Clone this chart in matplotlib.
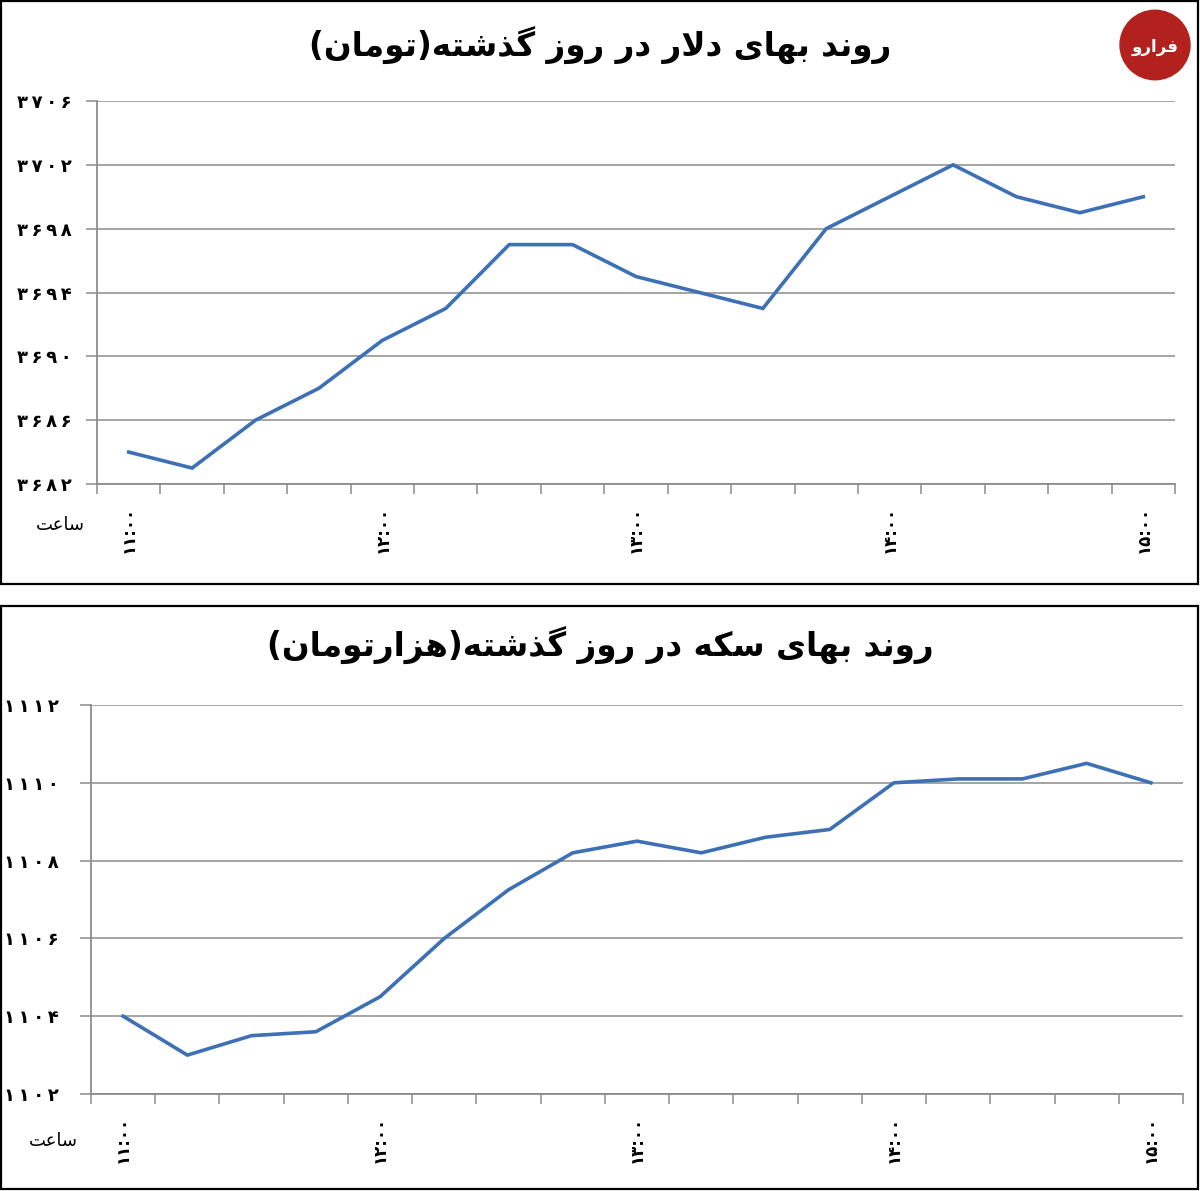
import numpy as np
import matplotlib.pyplot as plt
from matplotlib.patches import Rectangle, Circle

# --- data (Toman, every 15 minutes from 11:00 to 15:00) ---
dollar = [3684, 3683, 3686, 3688, 3691, 3693, 3697, 3697, 3695, 3694,
          3693, 3698, 3700, 3702, 3700, 3699, 3700]
coin = [1104.0, 1103.0, 1103.5, 1103.6, 1104.5, 1106.0, 1107.25, 1108.2, 1108.5,
        1108.2, 1108.6, 1108.8, 1110.0, 1110.1, 1110.1, 1110.5, 1110.0]
hour_labels = ['۱۱:۰۰', '۱۲:۰۰', '۱۳:۰۰', '۱۴:۰۰', '۱۵:۰۰']
dollar_ticks = [3682, 3686, 3690, 3694, 3698, 3702, 3706]
coin_ticks = [1102, 1104, 1106, 1108, 1110, 1112]
title_dollar = 'روند بهای دلار در روز گذشته(تومان)'
title_coin = 'روند بهای سکه در روز گذشته(هزارتومان)'
hour_word = 'ساعت'

# --- minimal persian shaping, matplotlib has no arabic layout ---
FORMS = {
    'ا': (0xFE8D, 0xFE8E), 'ب': (0xFE8F, 0xFE90, 0xFE91, 0xFE92),
    'ت': (0xFE95, 0xFE96, 0xFE97, 0xFE98), 'د': (0xFEA9, 0xFEAA),
    'ذ': (0xFEAB, 0xFEAC), 'ر': (0xFEAD, 0xFEAE), 'ز': (0xFEAF, 0xFEB0),
    'س': (0xFEB1, 0xFEB2, 0xFEB3, 0xFEB4), 'ش': (0xFEB5, 0xFEB6, 0xFEB7, 0xFEB8),
    'ع': (0xFEC9, 0xFECA, 0xFECB, 0xFECC), 'ف': (0xFED1, 0xFED2, 0xFED3, 0xFED4),
    'ک': (0xFB8E, 0xFB8F, 0xFB90, 0xFB91),
    'گ': (0xFB92, 0xFB93, 0xFB94, 0xFB95), 'ل': (0xFEDD, 0xFEDE, 0xFEDF, 0xFEE0),
    'م': (0xFEE1, 0xFEE2, 0xFEE3, 0xFEE4), 'ن': (0xFEE5, 0xFEE6, 0xFEE7, 0xFEE8),
    'ه': (0xFEE9, 0xFEEA, 0xFEEB, 0xFEEC), 'و': (0xFEED, 0xFEEE),
    'ی': (0xFBFC, 0xFBFD, 0xFBFE, 0xFBFF),
}


def fa(s):
    out = []
    i = 0
    n = len(s)
    while i < n:
        c = s[i]
        prev = s[i - 1] if i > 0 else ''
        jp = prev in FORMS and len(FORMS[prev]) == 4 and c in FORMS
        if c == 'ل' and i + 1 < n and s[i + 1] == 'ا':
            out.append(chr(0xFEFC if jp else 0xFEFB))
            i += 2
            continue
        if c not in FORMS:
            out.append(c)
            i += 1
            continue
        f = FORMS[c]
        jn = len(f) == 4 and i + 1 < n and s[i + 1] in FORMS
        if jp and jn:
            out.append(chr(f[3]))
        elif jp:
            out.append(chr(f[1]))
        elif jn:
            out.append(chr(f[2]))
        else:
            out.append(chr(f[0]))
        i += 1
    vis = ''.join(out)[::-1]
    return vis.translate(str.maketrans('()', ')('))


def fa_num(v):
    d = str(v).translate(str.maketrans('0123456789', '۰۱۲۳۴۵۶۷۸۹'))
    return '\u2009'.join(d)


W, H = 1200, 1191
fig = plt.figure(figsize=(W / 100, H / 100), dpi=100)
plt.rcParams['font.family'] = ['DejaVu Sans']

blue = '#3d70b5'
grey = '#8c8c8c'


def px(x0, y0, x1, y1):
    return [x0 / W, 1 - y1 / H, (x1 - x0) / W, (y1 - y0) / H]


def panel(box, values, ticks, title, title_y, word_xy, ylab_pad):
    ax = fig.add_axes(box)
    x = np.arange(len(values))
    ax.plot(x, values, color=blue, lw=2.6, solid_joinstyle='miter')
    ax.set_xlim(-0.5, len(values) - 0.5)
    ax.set_ylim(ticks[0], ticks[-1])
    ax.set_yticks(ticks)
    ax.set_yticklabels([fa_num(t) for t in ticks], fontsize=13, fontweight='bold')
    ax.yaxis.grid(True, color=grey, lw=1.1)
    ax.set_axisbelow(True)
    ax.set_xticks(np.arange(len(values) + 1) - 0.5)
    ax.set_xticklabels([])
    ax.set_xticks(x[::4], minor=True)
    ax.set_xticklabels(hour_labels, minor=True, rotation=90, fontsize=12,
                       fontweight='bold')
    ax.tick_params(axis='x', which='major', length=7, width=1.1, color=grey,
                   direction='out')
    ax.tick_params(axis='x', which='minor', length=0, pad=16)
    ax.tick_params(axis='y', length=8, width=1.1, color=grey, pad=ylab_pad)
    for s in ['top', 'right']:
        ax.spines[s].set_visible(False)
    for s in ['left', 'bottom']:
        ax.spines[s].set_color(grey)
        ax.spines[s].set_linewidth(1.3)
    fig.text(0.5, 1 - title_y / H, fa(title), ha='center', va='center',
             fontsize=23.5, fontweight='bold')
    fig.text(word_xy[0] / W, 1 - word_xy[1] / H, fa(hour_word), ha='center',
             va='center', fontsize=13)
    return ax


panel(px(97, 101, 1175, 484), dollar, dollar_ticks, title_dollar, 45, (60, 525), 10)
panel(px(91, 705, 1183, 1094), coin, coin_ticks, title_coin, 645, (53, 1141), 15)

# panel frames
fig.patches.append(Rectangle((1 / W, 1 - 584 / H), 1197 / W, 583 / H,
                             transform=fig.transFigure, fill=False, ec='black', lw=1.6))
fig.patches.append(Rectangle((1 / W, 1 - 1189 / H), 1197 / W, 583 / H,
                             transform=fig.transFigure, fill=False, ec='black', lw=1.6))

# site logo
fig.patches.append(Circle((1155 / W, 1 - 45 / H), 35 / W, transform=fig.transFigure,
                          color='#b3211f'))
fig.text(1155 / W, 1 - 47 / H, fa('فرارو'), ha='center', va='center', color='white',
         fontsize=12, fontweight='bold')

fig.savefig('out.png', dpi=100)
